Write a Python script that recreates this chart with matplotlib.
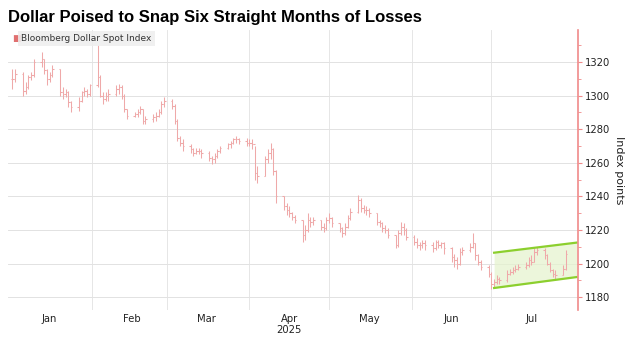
#! /usr/bin/env python3

# Imports
import matplotlib
matplotlib.use("Agg")
import matplotlib.pyplot as plt
import matplotlib.dates as mdates
import numpy as np
import pandas as pd


# Data (one row per trading day)
dates = pd.bdate_range("2025-01-02", "2025-07-29")

close = [
    # Jan
    1310, 1313, 1303, 1305, 1311, 1312, 1320, 1322, 1315, 1310, 1312, 1316,
    1302, 1301, 1302, 1296, 1293, 1297, 1302, 1303, 1301, 1306,
    # Feb
    1311, 1300, 1298, 1300, 1301, 1304, 1305, 1300, 1292, 1288, 1289, 1290,
    1292, 1285, 1286, 1287, 1288, 1290, 1295, 1297,
    # Mar
    1294, 1285, 1275, 1272, 1270, 1268, 1266, 1267, 1267, 1266, 1263, 1262,
    1264, 1267, 1269, 1271, 1272, 1274, 1274, 1273, 1272,
    # Apr
    1272, 1271, 1254, 1252, 1262, 1266, 1268, 1255, 1240, 1234, 1232, 1230,
    1228, 1226, 1217, 1220, 1226, 1225, 1226, 1222, 1221, 1226,
    # May
    1227, 1224, 1221, 1218, 1222, 1227, 1231, 1238, 1233, 1232, 1232, 1230,
    1225, 1224, 1221, 1220, 1217, 1211, 1218, 1222, 1220, 1216,
    # Jun
    1213, 1211, 1211, 1212, 1211, 1209, 1213, 1211, 1212, 1209, 1204, 1202,
    1200, 1207, 1208, 1210, 1212, 1205, 1201, 1198, 1194,
    # Jul
    1188, 1189, 1191, 1190, 1194, 1195, 1196, 1197, 1198, 1199, 1202, 1201,
    1207, 1208, 1205, 1200, 1196, 1194, 1193, 1197, 1206,
]

high = [
    1316, 1316, 1314, 1308, 1312, 1314, 1322, 1326, 1322, 1316, 1314, 1318,
    1316, 1305, 1304, 1303, 1297, 1299, 1303, 1305, 1304, 1307,
    1330, 1312, 1302, 1302, 1304, 1306, 1307, 1306, 1301, 1292, 1290, 1292,
    1294, 1292, 1288, 1289, 1290, 1292, 1297, 1299,
    1298, 1295, 1286, 1276, 1274, 1271, 1269, 1269, 1269, 1268, 1267, 1264,
    1266, 1268, 1270, 1272, 1273, 1275, 1276, 1275, 1275,
    1274, 1274, 1270, 1258, 1264, 1268, 1272, 1269, 1256, 1240, 1236, 1234,
    1231, 1229, 1226, 1223, 1230, 1228, 1228, 1226, 1224, 1228,
    1230, 1228, 1224, 1222, 1224, 1229, 1233, 1241, 1239, 1235, 1234, 1233,
    1230, 1226, 1225, 1223, 1221, 1217, 1220, 1225, 1224, 1221,
    1217, 1215, 1213, 1214, 1214, 1213, 1214, 1214, 1213, 1213, 1210, 1206,
    1204, 1209, 1210, 1212, 1218, 1212, 1206, 1202, 1199,
    1195, 1191, 1193, 1192, 1196, 1197, 1198, 1199, 1200, 1201, 1204, 1205,
    1209, 1210, 1209, 1206, 1201, 1197, 1196, 1199, 1208,
]

low = [
    1304, 1308, 1300, 1301, 1304, 1309, 1311, 1317, 1313, 1306, 1308, 1311,
    1300, 1298, 1299, 1293, 1290, 1291, 1296, 1300, 1299, 1300,
    1305, 1299, 1295, 1297, 1297, 1300, 1301, 1298, 1290, 1286, 1287, 1287,
    1289, 1283, 1283, 1284, 1285, 1287, 1289, 1293,
    1292, 1283, 1273, 1270, 1267, 1266, 1264, 1265, 1265, 1263, 1261, 1259,
    1260, 1263, 1266, 1268, 1269, 1271, 1272, 1271, 1270,
    1270, 1268, 1250, 1248, 1252, 1260, 1262, 1253, 1236, 1232, 1229, 1228,
    1226, 1224, 1213, 1214, 1219, 1222, 1223, 1220, 1219, 1220,
    1224, 1222, 1219, 1216, 1217, 1221, 1226, 1230, 1231, 1230, 1229, 1228,
    1223, 1222, 1219, 1218, 1215, 1209, 1210, 1217, 1217, 1214,
    1211, 1209, 1208, 1209, 1208, 1207, 1208, 1209, 1209, 1206, 1201, 1198,
    1197, 1199, 1205, 1207, 1209, 1202, 1199, 1196, 1192,
    1185, 1186, 1188, 1188, 1189, 1193, 1194, 1195, 1196, 1197, 1198, 1199,
    1201, 1205, 1203, 1199, 1195, 1192, 1191, 1193, 1196,
]

# Channel drawn over the July rebound (start/end dates and levels)
channel_dates = ["2025-07-02", "2025-08-02"]
channel_upper = [1206.5, 1212.5]
channel_lower = [1185.5, 1192.0]

month_labels = ["Jan", "Feb", "Mar", "Apr", "May", "Jun", "Jul"]
y_ticks = [1180, 1200, 1220, 1240, 1260, 1280, 1300, 1320]

bar_color = "#efa9a9"
green = "#8ccf2e"

# Figure
fig = plt.figure(figsize=(6.34, 3.39), dpi=100)
ax = fig.add_axes([0.0126, 0.0855, 0.899, 0.826])

x = mdates.date2num(dates)
opens = [close[0]] + close[:-1]
half = 0.55

ax.vlines(x, low, high, color=bar_color, lw=0.75)
ax.hlines(opens, x - half, x, color=bar_color, lw=0.75)
ax.hlines(close, x, x + half, color=bar_color, lw=0.75)

# Channel
cx = mdates.date2num(pd.to_datetime(channel_dates))
ax.fill_between(cx, channel_lower, channel_upper, color="#e6f3cf", alpha=0.75, lw=0, zorder=0.5)
ax.plot(cx, channel_upper, color=green, lw=1.6)
ax.plot(cx, channel_lower, color=green, lw=1.6)

ax.set_xlim(mdates.date2num(pd.Timestamp("2024-12-31 08:00")), mdates.date2num(pd.Timestamp("2025-08-02 12:00")))
ax.set_ylim(1172.4, 1339)

# Axes styling
for side in ["top", "left", "bottom"]:
    ax.spines[side].set_visible(False)
ax.spines["right"].set_color("#f08a8a")
ax.spines["right"].set_linewidth(1.2)

ax.yaxis.tick_right()
ax.yaxis.set_label_position("right")
ax.set_yticks(y_ticks)
ax.set_yticks(np.arange(1180, 1340, 10), minor=True)
ax.tick_params(axis="y", which="major", colors="#f08a8a", labelcolor="#222222",
               labelsize=7.2, length=3, width=0.8, pad=2)
ax.tick_params(axis="y", which="minor", colors="#f08a8a", length=2, width=0.6)
ax.set_ylabel("Index points", rotation=270, labelpad=10, fontsize=8, color="#222222")

month_starts = pd.date_range("2025-02-01", "2025-07-01", freq="MS")
for d in month_starts:
    ax.axvline(mdates.date2num(d), color="#e6e6e6", lw=0.7, zorder=0)
for v in y_ticks:
    ax.axhline(v, color="#e2e2e2", lw=0.7, zorder=0)

mids = pd.date_range("2025-01-01", "2025-07-01", freq="MS") + pd.Timedelta(days=15)
ax.set_xticks(mdates.date2num(mids))
ax.set_xticklabels(month_labels)
ax.tick_params(axis="x", length=0, labelsize=7.2, labelcolor="#222222", pad=3)
ax.text(mdates.date2num(mids[3]), -0.055, "2025", transform=ax.get_xaxis_transform(),
        ha="center", va="top", fontsize=7.2, color="#222222")

# Legend box
ax.text(0.008, 0.985, "\u25A0", transform=ax.transAxes, color="#e07070",
        fontsize=6.5, va="top", ha="left")
ax.text(0.023, 0.985, "Bloomberg Dollar Spot Index", transform=ax.transAxes,
        fontsize=6.5, va="top", ha="left", color="#333333",
        bbox=dict(boxstyle="square,pad=0.35", fc="#eeeeee", ec="none", alpha=0.85))

fig.text(0.0126, 0.948, "Dollar Poised to Snap Six Straight Months of Losses",
         fontsize=12, fontweight="bold", family="Liberation Sans", va="center", ha="left")

fig.savefig("out.png", dpi=100)
